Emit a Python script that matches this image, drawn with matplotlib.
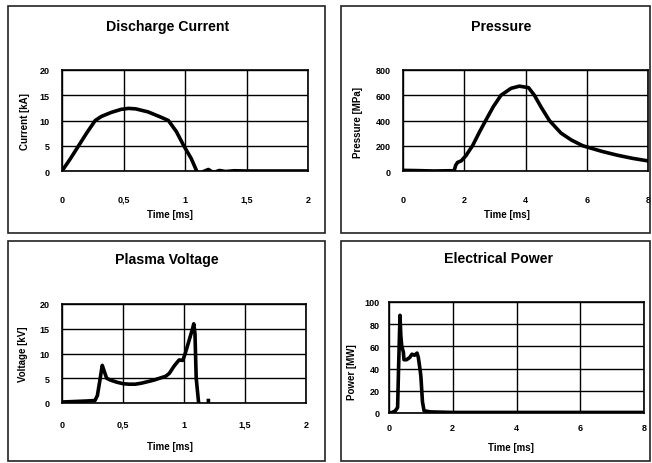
import numpy as np
import matplotlib.pyplot as plt
from matplotlib.patches import Rectangle

# Discharge current [kA] vs time [ms]
t_cur = [0, 0.07, 0.135, 0.2, 0.27, 0.32, 0.4, 0.48, 0.54, 0.6, 0.7, 0.8, 0.865, 0.93, 0.99,
         1.05, 1.095, 1.12, 1.15, 1.19, 1.23, 1.28, 1.33, 1.4, 1.5, 1.7, 2.0]
i_cur = [0, 2.5, 5.0, 7.5, 10.0, 10.8, 11.6, 12.2, 12.4, 12.3, 11.7, 10.7, 10.0, 7.8, 5.0,
         2.5, 0.0, -0.8, -0.1, 0.3, -0.3, 0.1, -0.1, 0.05, 0.0, 0.0, 0.0]

# Pressure [MPa] vs time [ms]
t_pr = [0, 0.5, 1.0, 1.5, 1.67, 1.72, 1.78, 1.9, 2.05, 2.27, 2.5, 2.7, 2.95, 3.2, 3.53, 3.8,
        4.1, 4.29, 4.5, 4.78, 5.16, 5.5, 5.87, 6.5, 7.0, 7.5, 8.0]
p_pr = [5, 3, 0, 2, 2, 45, 68, 80, 120, 200, 310, 400, 510, 600, 655, 672,
        660, 600, 510, 400, 300, 245, 200, 155, 125, 100, 80]

# Plasma voltage [kV] vs time [ms]
t_v = [0, 0.1, 0.2, 0.27, 0.29, 0.31, 0.33, 0.345, 0.366, 0.4, 0.45, 0.5, 0.55, 0.6, 0.65,
       0.7, 0.75, 0.8, 0.85, 0.88, 0.92, 0.96, 0.99, 1.01, 1.04, 1.07, 1.08, 1.09, 1.1, 1.12,
       np.nan, 1.2, 1.2]
u_v = [0.2, 0.3, 0.4, 0.5, 1.5, 4.5, 7.6, 6.5, 5.0, 4.6, 4.2, 3.9, 3.8, 3.8, 4.0,
       4.3, 4.6, 5.0, 5.4, 6.0, 7.5, 8.7, 8.6, 10.0, 12.5, 15.0, 16.0, 14.0, 5.0, 0.0,
       np.nan, -0.5, 0.5]

# Electrical power [MW] vs time [ms]
t_pw = [0, 0.1, 0.2, 0.27, 0.3, 0.345, 0.37, 0.4, 0.45, 0.47, 0.55, 0.65, 0.72, 0.8, 0.88,
        0.92, 0.98, 1.0, 1.05, 1.1, 1.3, 2.0, 4.0, 6.0, 8.0]
p_pw = [0, 0.5, 2, 5, 40, 88, 70, 60, 55, 48, 48, 50, 53, 52, 54,
        50, 38, 33, 10, 2, 1, 0.5, 0.5, 0.5, 0.5]

titles = ["Discharge Current", "Pressure", "Plasma Voltage", "Electrical Power"]
ylabels = ["Current [kA]", "Pressure [MPa]", "Voltage [kV]", "Power [MW]"]
xlabel = "Time [ms]"

xt_short = [0, 0.5, 1, 1.5, 2]
xt_short_lbl = ["0", "0,5", "1", "1,5", "2"]
xt_long = [0, 2, 4, 6, 8]
yt_cur = [0, 5, 10, 15, 20]
yt_pr = [0, 200, 400, 600, 800]
yt_pw = [0, 20, 40, 60, 80, 100]

plt.rcParams['font.family'] = ['Liberation Sans', 'DejaVu Sans']
plt.rcParams['font.weight'] = 'bold'

fig = plt.figure(figsize=(6.52, 4.64), dpi=100)
W, H = 652.0, 464.0

def px_rect(x0, y0, x1, y1):
    # pixel box (top-left origin) -> figure fraction rect
    return [x0 / W, 1 - y1 / H, (x1 - x0) / W, (y1 - y0) / H]

# panel frames
for (x0, y0, x1, y1) in [(8, 7, 325, 234), (341, 7, 650, 234), (8, 242, 325, 462), (341, 242, 650, 462)]:
    fig.patches.append(Rectangle((x0 / W, 1 - y1 / H), (x1 - x0) / W, (y1 - y0) / H,
                                 transform=fig.transFigure, fill=False, lw=1.2, ec='#222222'))

axes_px = [(62, 71, 308, 172), (403, 71, 648, 172), (62, 305, 306, 404), (389, 303, 644, 414)]
title_px = [(168, 27), (501, 27), (167, 260), (498, 259)]
xlab_px = [(170, 215), (507, 215), (170, 447), (511, 448)]
ylab_px = [(25, 122), (358, 122), (23, 354), (352, 372)]
xpads = [22, 22, 17, 12.5]
ypads = [9, 9, 9, 6.5]

data = [(t_cur, i_cur, xt_short, xt_short_lbl, yt_cur),
        (t_pr, p_pr, xt_long, [str(v) for v in xt_long], yt_pr),
        (t_v, u_v, xt_short, xt_short_lbl, yt_cur),
        (t_pw, p_pw, xt_long, [str(v) for v in xt_long], yt_pw)]

for k, (x, y, xt, xtl, yt) in enumerate(data):
    ax = fig.add_axes(px_rect(*axes_px[k]))
    ax.plot(x, y, color='black', lw=2.6, solid_joinstyle='round', zorder=3)
    ax.set_xlim(xt[0], xt[-1])
    ax.set_ylim(yt[0], yt[-1])
    ax.set_xticks(xt)
    ax.set_xticklabels(xtl)
    ax.set_yticks(yt)
    ax.set_yticklabels([str(v) for v in yt])
    ax.grid(True, color='black', lw=1.0)
    ax.tick_params(length=0, labelsize=6.5)
    ax.tick_params(axis='x', pad=xpads[k])
    ax.tick_params(axis='y', pad=ypads[k])
    plt.setp(ax.get_xticklabels(), va='baseline')
    for s in ax.spines.values():
        s.set_linewidth(1.2)
    fig.text(title_px[k][0] / W, 1 - title_px[k][1] / H, titles[k], ha='center', va='center',
             fontsize=10.2, fontweight='bold')
    fig.text(xlab_px[k][0] / W, 1 - xlab_px[k][1] / H, xlabel, ha='center', va='center',
             fontsize=7, fontweight='bold')
    fig.text(ylab_px[k][0] / W, 1 - ylab_px[k][1] / H, ylabels[k], ha='center', va='center',
             fontsize=7, fontweight='bold', rotation=90)

fig.savefig('out.png', dpi=100)
